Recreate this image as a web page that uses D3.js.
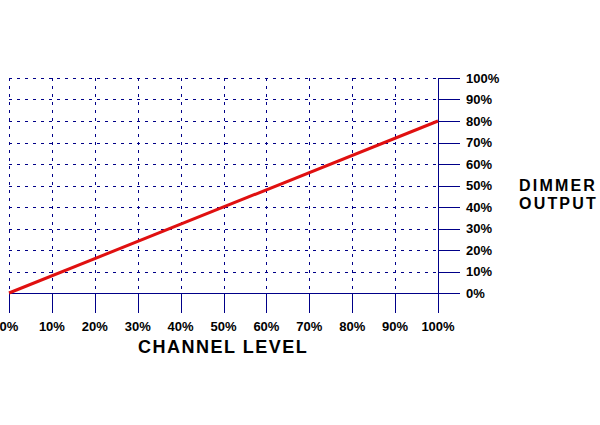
<!DOCTYPE html>
<meta charset="utf-8">
<style>
body {
  margin: 0;
  background-color: #fff;
}
.tick-label {
  font: bold 13px "Liberation Sans", Arial, sans-serif;
  fill: #000;
}
.title {
  font: bold 18px "Liberation Sans", Arial, sans-serif;
  fill: #000;
}
.grid line {
  stroke: #000088;
  stroke-width: 1px;
  stroke-dasharray: 3,5;
  shape-rendering: crispEdges;
}
.axis-line {
  stroke: #000088;
  stroke-width: 1px;
  shape-rendering: crispEdges;
}
.curve {
  fill: none;
  stroke: #e01010;
  stroke-width: 3px;
}
</style>
<body>
<svg width="600" height="425"></svg>
<script src="https://d3js.org/d3.v7.min.js"></script>
<script>
// channel level (%) -> dimmer output (%)
var channelLevel = [0, 100];
var dimmerOutput = [0, 80];
var xTicks = [0, 10, 20, 30, 40, 50, 60, 70, 80, 90, 100];
var yTicks = [0, 10, 20, 30, 40, 50, 60, 70, 80, 90, 100];

var svg = d3.select("svg"),
    margin = {left: 9, top: 78},
    width = 429,
    height = 215;

var x = d3.scaleLinear().domain([0, 100]).range([0, width]);
var y = d3.scaleLinear().domain([0, 100]).range([height, 0]);

var g = svg.append("g")
    .attr("transform", "translate(" + margin.left + "," + margin.top + ")");

// dotted grid
var grid = g.append("g").attr("class", "grid");
grid.selectAll(".h")
    .data(yTicks.filter(function(d) { return d > 0; }))
  .enter().append("line")
    .attr("x1", 0)
    .attr("x2", width)
    .attr("y1", function(d) { return Math.round(y(d)) + 0.5; })
    .attr("y2", function(d) { return Math.round(y(d)) + 0.5; });
grid.selectAll(".v")
    .data(xTicks.filter(function(d) { return d < 100; }))
  .enter().append("line")
    .attr("y1", 0)
    .attr("y2", height)
    .attr("x1", function(d) { return Math.round(x(d)) + 0.5; })
    .attr("x2", function(d) { return Math.round(x(d)) + 0.5; });

// x axis: baseline + ticks going down
g.append("line")
    .attr("class", "axis-line")
    .attr("x1", 0).attr("x2", width)
    .attr("y1", Math.round(y(0)) + 0.5).attr("y2", Math.round(y(0)) + 0.5);
g.selectAll(".xtick")
    .data(xTicks)
  .enter().append("line")
    .attr("class", "axis-line")
    .attr("x1", function(d) { return Math.round(x(d)) + 0.5; })
    .attr("x2", function(d) { return Math.round(x(d)) + 0.5; })
    .attr("y1", y(0))
    .attr("y2", y(0) + 20);
g.selectAll(".xlabel")
    .data(xTicks)
  .enter().append("text")
    .attr("class", "tick-label")
    .attr("x", function(d) { return x(d); })
    .attr("y", y(0) + 38)
    .attr("text-anchor", "middle")
    .text(function(d) { return d + "%"; });

// y axis on the right: vertical line + ticks going right
g.append("line")
    .attr("class", "axis-line")
    .attr("x1", Math.round(x(100)) + 0.5).attr("x2", Math.round(x(100)) + 0.5)
    .attr("y1", y(100)).attr("y2", y(0) + 20);
g.selectAll(".ytick")
    .data(yTicks)
  .enter().append("line")
    .attr("class", "axis-line")
    .attr("x1", x(100))
    .attr("x2", x(100) + 22)
    .attr("y1", function(d) { return Math.round(y(d)) + 0.5; })
    .attr("y2", function(d) { return Math.round(y(d)) + 0.5; });
g.selectAll(".ylabel")
    .data(yTicks)
  .enter().append("text")
    .attr("class", "tick-label")
    .attr("x", x(100) + 28)
    .attr("y", function(d) { return y(d); })
    .attr("dy", "0.36em")
    .text(function(d) { return d + "%"; });

// output curve
var line = d3.line()
    .x(function(d, i) { return x(channelLevel[i]); })
    .y(function(d) { return y(d); });
g.append("path")
    .datum(dimmerOutput)
    .attr("class", "curve")
    .attr("d", line);

// titles
svg.append("text")
    .attr("class", "title")
    .attr("x", 138)
    .attr("y", 353)
    .style("letter-spacing", "1.5px")
    .text("CHANNEL LEVEL");

var yTitle = svg.append("text")
    .attr("class", "title")
    .attr("y", 191)
    .style("font-size", "16px")
    .style("letter-spacing", "2.2px");
yTitle.append("tspan").attr("x", 519).text("DIMMER");
yTitle.append("tspan").attr("x", 519).attr("dy", 18).text("OUTPUT");
</script>
